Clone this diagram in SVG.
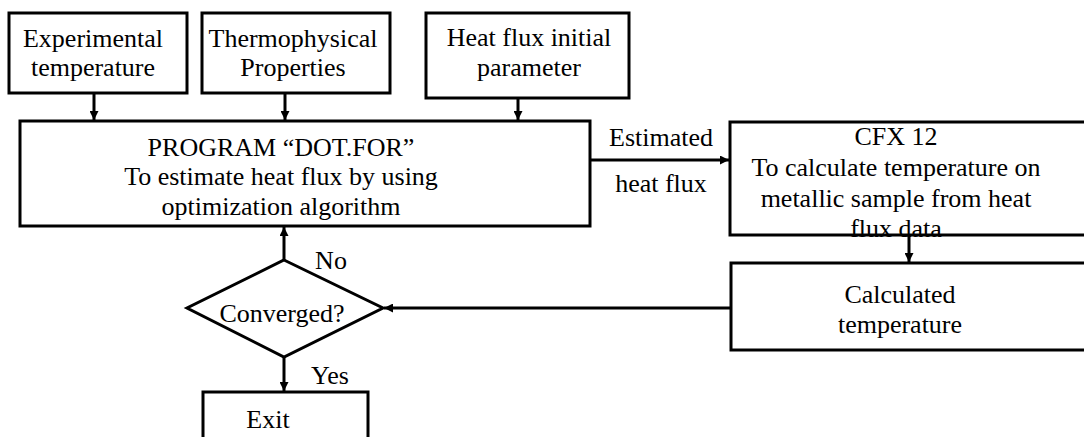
<svg xmlns="http://www.w3.org/2000/svg" width="1084" height="437" viewBox="0 0 1084 437">
<style>
.box{fill:#fff;stroke:#000;stroke-width:3}
.t{font-family:"Liberation Serif","Times New Roman",serif;font-size:26px;fill:#000;text-anchor:middle}
.c{stroke:#000;stroke-width:3;fill:none}
</style>
<defs>
<marker id="ah" viewBox="0 0 10 10" refX="10" refY="5" markerWidth="9" markerHeight="9" markerUnits="userSpaceOnUse" orient="auto">
<path d="M0,0 L10,5 L0,10 Z" fill="#000"/>
</marker>
</defs>
<rect width="1084" height="437" fill="#fff"/>
<g id="connectors">
<line class="c" x1="94" y1="93" x2="94" y2="120" marker-end="url(#ah)"/>
<line class="c" x1="285" y1="93" x2="285" y2="120" marker-end="url(#ah)"/>
<line class="c" x1="518" y1="98" x2="518" y2="120" marker-end="url(#ah)"/>
<line class="c" x1="590" y1="160" x2="729" y2="160" marker-end="url(#ah)"/>
<line class="c" x1="909" y1="235" x2="909" y2="262" marker-end="url(#ah)"/>
<line class="c" x1="730" y1="308" x2="384" y2="308" marker-end="url(#ah)"/>
<line class="c" x1="284" y1="260" x2="284" y2="227" marker-end="url(#ah)"/>
<line class="c" x1="284" y1="357" x2="284" y2="391" marker-end="url(#ah)"/>
<text class="t" x="661" y="146">Estimated</text>
<text class="t" x="661" y="192">heat flux</text>
<text class="t" x="331" y="269">No</text>
<text class="t" x="330" y="384">Yes</text>
</g>
<g id="exp">
<rect class="box" x="9" y="13" width="178" height="80"/>
<text class="t" x="93" y="47">Experimental</text>
<text class="t" x="93" y="76">temperature</text>
</g>
<g id="thermo">
<rect class="box" x="202" y="13" width="188" height="80"/>
<text class="t" x="293" y="47">Thermophysical</text>
<text class="t" x="293" y="76">Properties</text>
</g>
<g id="initial">
<rect class="box" x="426" y="13" width="203" height="85"/>
<text class="t" x="529" y="46">Heat flux initial</text>
<text class="t" x="529" y="76">parameter</text>
</g>
<g id="program">
<rect class="box" x="20" y="121" width="570" height="105"/>
<text class="t" x="281" y="156">PROGRAM “DOT.FOR”</text>
<text class="t" x="281" y="185">To estimate heat flux by using</text>
<text class="t" x="281" y="215">optimization algorithm</text>
</g>
<g id="cfx">
<rect class="box" x="730" y="122" width="370" height="113"/>
<text class="t" x="896" y="145">CFX 12</text>
<text class="t" x="896" y="176">To calculate temperature on</text>
<text class="t" x="896" y="207">metallic sample from heat</text>
<text class="t" x="896" y="237">flux data</text>
</g>
<g id="calc">
<rect class="box" x="731" y="263" width="370" height="87"/>
<text class="t" x="900" y="303">Calculated</text>
<text class="t" x="900" y="333">temperature</text>
</g>
<g id="converged">
<polygon class="box" points="284,260 383,308 284,357 187,308"/>
<text class="t" x="282" y="322">Converged?</text>
</g>
<g id="exit">
<rect class="box" x="203" y="392" width="165" height="60"/>
<text class="t" x="268" y="428">Exit</text>
</g>
</svg>
